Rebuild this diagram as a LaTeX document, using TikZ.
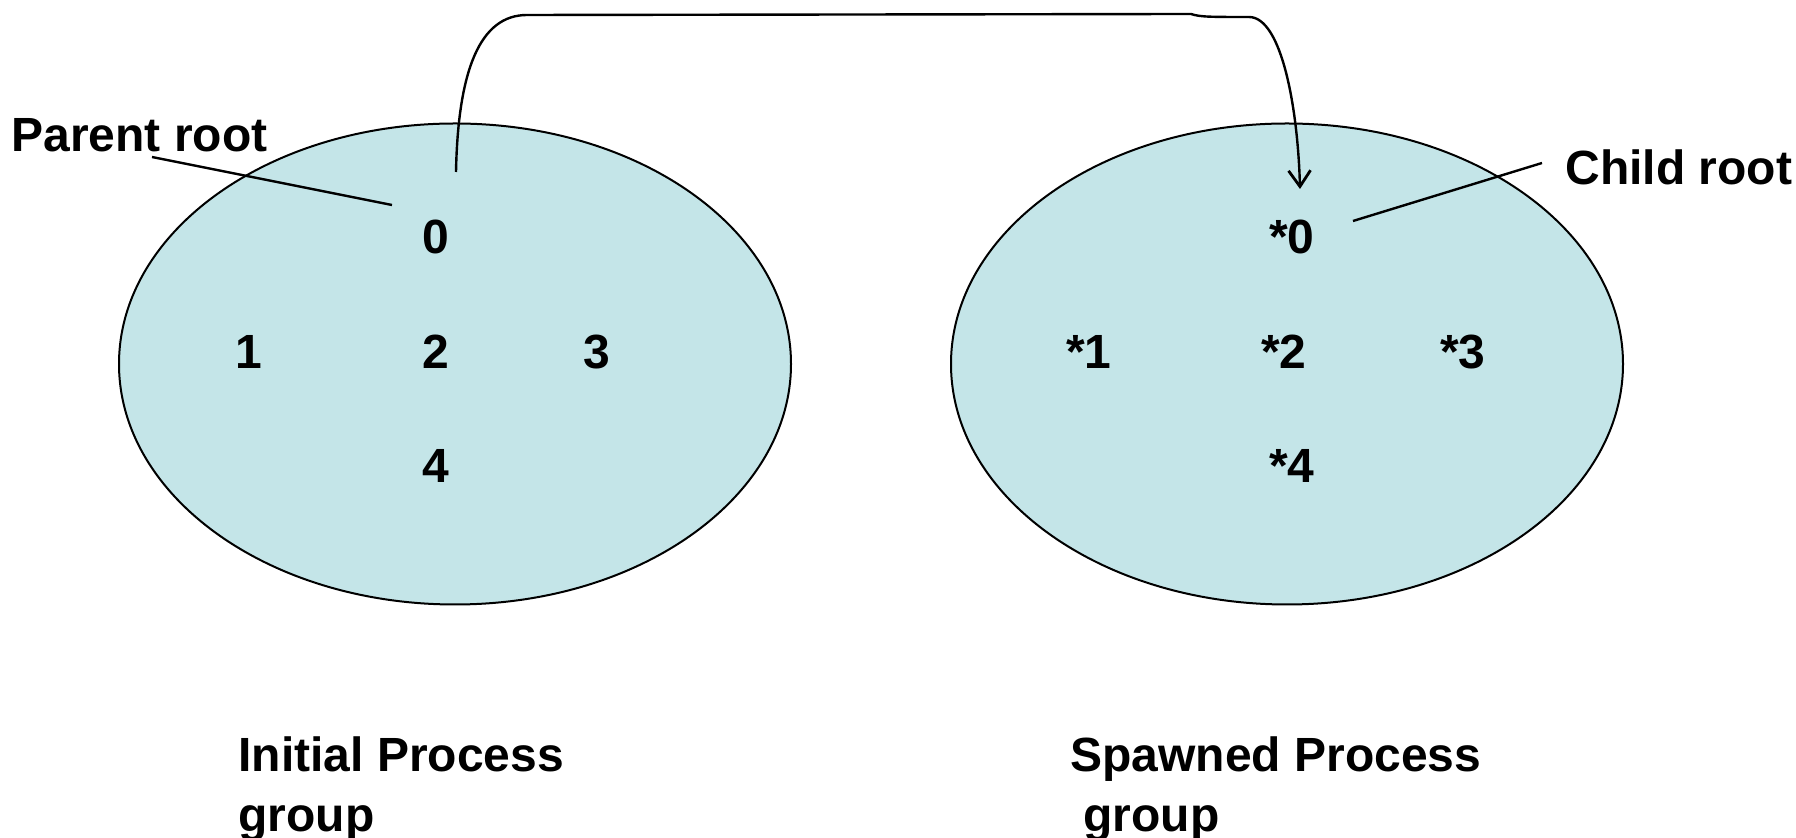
\documentclass[tikz,border=0pt]{standalone}
\usepackage{fontspec}
\setmainfont{Liberation Sans}
\usetikzlibrary{arrows.meta}
\definecolor{groupfill}{RGB}{196,229,232}
\tikzset{
  grp/.style={draw=black, line width=1pt, fill=groupfill},
  num/.style={font=\fontsize{24}{29}\selectfont\bfseries, inner sep=0pt},
  lbl/.style={font=\fontsize{24}{30}\selectfont\bfseries, inner sep=0pt, align=left},
  leader/.style={draw=black, line width=1.2pt},
  spawn/.style={draw=black, line width=1.2pt, -{Straight Barb[length=8pt,width=11pt,line width=1.4pt]}}
}
\begin{document}
\begin{tikzpicture}[x=0.5pt,y=-0.5pt]
\useasboundingbox (0,0) rectangle (1796,838);
% ellipses
\draw[grp] (455,364) ellipse [x radius=336, y radius=240.5];
\draw[grp] (1287,364) ellipse [x radius=336, y radius=240.5];
% numbers left
\node[num] (p0) at (436,237) {0};
\node[num] (p1) at (249,352) {1};
\node[num] (p2) at (436,352) {2};
\node[num] (p3) at (597,352) {3};
\node[num] (p4) at (436,466) {4};
% numbers right
\node[num] (c0) at (1292,237) {*0};
\node[num] (c1) at (1089,352) {*1};
\node[num] (c2) at (1284,352) {*2};
\node[num] (c3) at (1463,352) {*3};
\node[num] (c4) at (1292,466) {*4};
% labels
\node[lbl, anchor=west] (parent) at (11,135) {Parent root};
\node[lbl, anchor=west] (child) at (1565,167) {Child root};
\coordinate (pl1) at (152,157);
\coordinate (pl2) at (392,205);
\coordinate (cl1) at (1542,163);
\coordinate (cl2) at (1353,221);
\draw[leader] (pl1) -- (pl2);
\draw[leader] (cl1) -- (cl2);
% spawn arrow
\coordinate (as) at (456,172);
\coordinate (ae) at (1300,189);
\draw[spawn] (as) .. controls (458,70) and (480,15) .. (527,15)
  -- (1191,14) .. controls (1200,17) and (1210,17) .. (1249,17)
  .. controls (1282,17) and (1298,110) .. (ae);
% bottom captions
\node[lbl, anchor=west] (init) at (238,789) {Initial Process\\group};
\node[lbl, anchor=west] (spawned) at (1070,789) {Spawned Process\\\hspace*{6.5pt}group};
\end{tikzpicture}
\end{document}
